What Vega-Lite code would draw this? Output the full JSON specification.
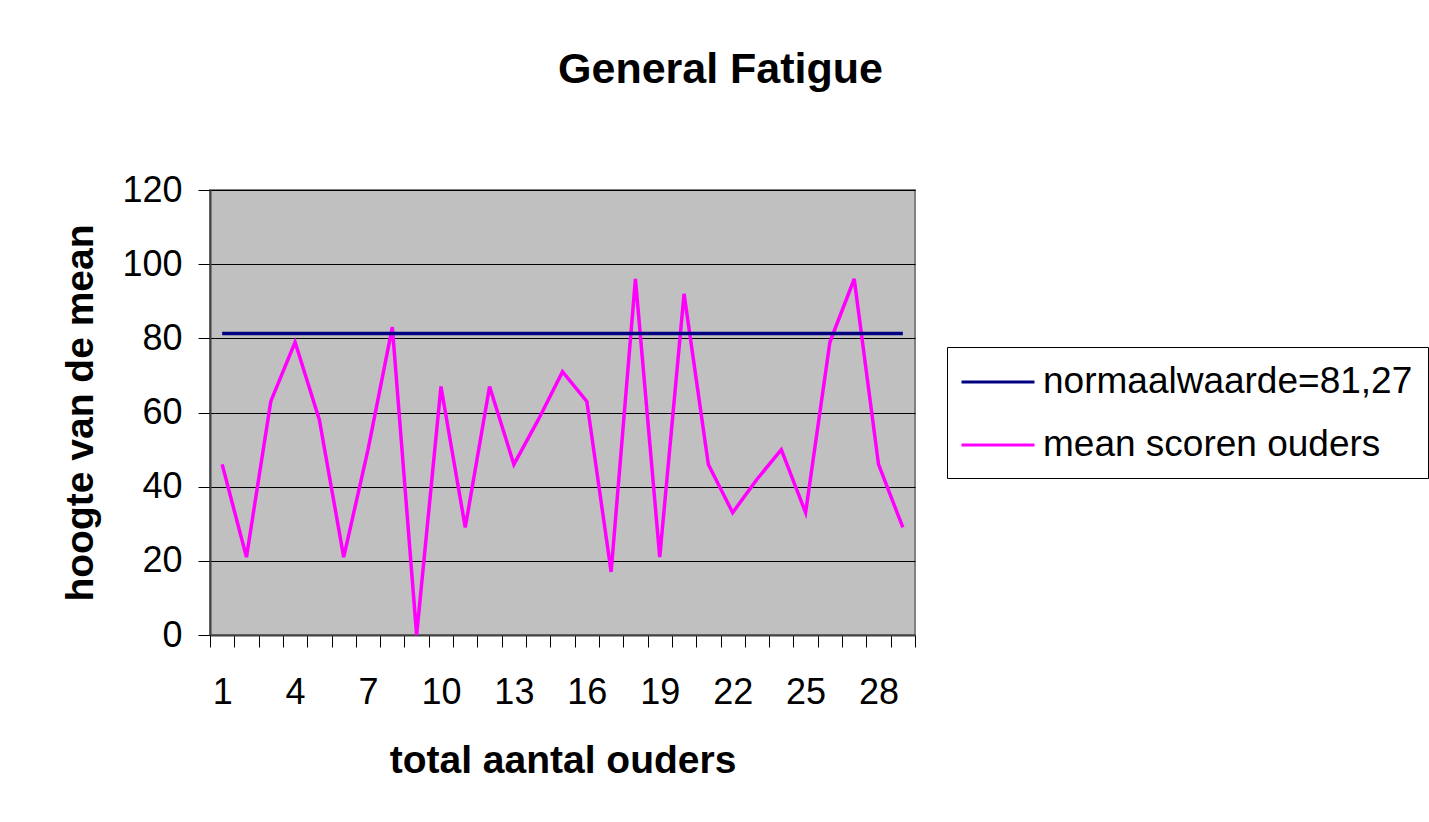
{
  "$schema": "https://vega.github.io/schema/vega-lite/v6.json",
  "autosize": "none",
  "width": 705,
  "height": 445,
  "padding": {"left": 210, "top": 190, "right": 514, "bottom": 187},
  "background": "white",
  "title": {
    "text": "General Fatigue",
    "font": "Liberation Sans",
    "fontSize": 43,
    "fontWeight": "bold",
    "color": "black",
    "anchor": "middle",
    "dx": 158,
    "offset": 46,
    "baseline": "alphabetic"
  },
  "config": {
    "view": {"fill": "#C0C0C0", "stroke": "#808080", "strokeWidth": 2},
    "font": "Liberation Sans"
  },
  "data": {
    "values": [
      {"ouder": 1, "score": 46, "reeks": "mean scoren ouders"},
      {"ouder": 2, "score": 21, "reeks": "mean scoren ouders"},
      {"ouder": 3, "score": 63, "reeks": "mean scoren ouders"},
      {"ouder": 4, "score": 79, "reeks": "mean scoren ouders"},
      {"ouder": 5, "score": 58, "reeks": "mean scoren ouders"},
      {"ouder": 6, "score": 21, "reeks": "mean scoren ouders"},
      {"ouder": 7, "score": 50, "reeks": "mean scoren ouders"},
      {"ouder": 8, "score": 83, "reeks": "mean scoren ouders"},
      {"ouder": 9, "score": 0, "reeks": "mean scoren ouders"},
      {"ouder": 10, "score": 67, "reeks": "mean scoren ouders"},
      {"ouder": 11, "score": 29, "reeks": "mean scoren ouders"},
      {"ouder": 12, "score": 67, "reeks": "mean scoren ouders"},
      {"ouder": 13, "score": 46, "reeks": "mean scoren ouders"},
      {"ouder": 14, "score": 58, "reeks": "mean scoren ouders"},
      {"ouder": 15, "score": 71, "reeks": "mean scoren ouders"},
      {"ouder": 16, "score": 63, "reeks": "mean scoren ouders"},
      {"ouder": 17, "score": 17, "reeks": "mean scoren ouders"},
      {"ouder": 18, "score": 96, "reeks": "mean scoren ouders"},
      {"ouder": 19, "score": 21, "reeks": "mean scoren ouders"},
      {"ouder": 20, "score": 92, "reeks": "mean scoren ouders"},
      {"ouder": 21, "score": 46, "reeks": "mean scoren ouders"},
      {"ouder": 22, "score": 33, "reeks": "mean scoren ouders"},
      {"ouder": 23, "score": 42, "reeks": "mean scoren ouders"},
      {"ouder": 24, "score": 50, "reeks": "mean scoren ouders"},
      {"ouder": 25, "score": 33, "reeks": "mean scoren ouders"},
      {"ouder": 26, "score": 79, "reeks": "mean scoren ouders"},
      {"ouder": 27, "score": 96, "reeks": "mean scoren ouders"},
      {"ouder": 28, "score": 46, "reeks": "mean scoren ouders"},
      {"ouder": 29, "score": 29, "reeks": "mean scoren ouders"},
      {"ouder": 1, "score": 81.27, "reeks": "normaalwaarde=81,27"},
      {"ouder": 2, "score": 81.27, "reeks": "normaalwaarde=81,27"},
      {"ouder": 3, "score": 81.27, "reeks": "normaalwaarde=81,27"},
      {"ouder": 4, "score": 81.27, "reeks": "normaalwaarde=81,27"},
      {"ouder": 5, "score": 81.27, "reeks": "normaalwaarde=81,27"},
      {"ouder": 6, "score": 81.27, "reeks": "normaalwaarde=81,27"},
      {"ouder": 7, "score": 81.27, "reeks": "normaalwaarde=81,27"},
      {"ouder": 8, "score": 81.27, "reeks": "normaalwaarde=81,27"},
      {"ouder": 9, "score": 81.27, "reeks": "normaalwaarde=81,27"},
      {"ouder": 10, "score": 81.27, "reeks": "normaalwaarde=81,27"},
      {"ouder": 11, "score": 81.27, "reeks": "normaalwaarde=81,27"},
      {"ouder": 12, "score": 81.27, "reeks": "normaalwaarde=81,27"},
      {"ouder": 13, "score": 81.27, "reeks": "normaalwaarde=81,27"},
      {"ouder": 14, "score": 81.27, "reeks": "normaalwaarde=81,27"},
      {"ouder": 15, "score": 81.27, "reeks": "normaalwaarde=81,27"},
      {"ouder": 16, "score": 81.27, "reeks": "normaalwaarde=81,27"},
      {"ouder": 17, "score": 81.27, "reeks": "normaalwaarde=81,27"},
      {"ouder": 18, "score": 81.27, "reeks": "normaalwaarde=81,27"},
      {"ouder": 19, "score": 81.27, "reeks": "normaalwaarde=81,27"},
      {"ouder": 20, "score": 81.27, "reeks": "normaalwaarde=81,27"},
      {"ouder": 21, "score": 81.27, "reeks": "normaalwaarde=81,27"},
      {"ouder": 22, "score": 81.27, "reeks": "normaalwaarde=81,27"},
      {"ouder": 23, "score": 81.27, "reeks": "normaalwaarde=81,27"},
      {"ouder": 24, "score": 81.27, "reeks": "normaalwaarde=81,27"},
      {"ouder": 25, "score": 81.27, "reeks": "normaalwaarde=81,27"},
      {"ouder": 26, "score": 81.27, "reeks": "normaalwaarde=81,27"},
      {"ouder": 27, "score": 81.27, "reeks": "normaalwaarde=81,27"},
      {"ouder": 28, "score": 81.27, "reeks": "normaalwaarde=81,27"},
      {"ouder": 29, "score": 81.27, "reeks": "normaalwaarde=81,27"}
    ]
  },
  "mark": {"type": "line", "strokeWidth": 3.5},
  "encoding": {
    "x": {
      "field": "ouder",
      "type": "ordinal",
      "bandPosition": 0.5,
      "scale": {"type": "band", "paddingInner": 0, "paddingOuter": 0},
      "axis": {
        "title": "total aantal ouders",
        "titleFont": "Liberation Sans",
        "titleFontSize": 39,
        "titleFontWeight": "bold",
        "titleColor": "black",
        "titlePadding": 31,
        "labelAngle": 0,
        "labelFont": "Liberation Sans",
        "labelFontSize": 36,
        "labelColor": "black",
        "labelPadding": 28,
        "labelOverlap": false,
        "labelExpr": "(datum.value - 1) % 3 == 0 ? datum.label : ''",
        "tickBand": "extent",
        "tickSize": 12,
        "tickColor": "black",
        "tickWidth": 1,
        "domainColor": "#404040",
        "domainWidth": 2,
        "grid": false
      }
    },
    "y": {
      "field": "score",
      "type": "quantitative",
      "scale": {"domain": [0, 120], "nice": false},
      "axis": {
        "title": "hoogte van de mean",
        "titleFont": "Liberation Sans",
        "titleFontSize": 39,
        "titleFontWeight": "bold",
        "titleColor": "black",
        "titlePadding": 21,
        "values": [0, 20, 40, 60, 80, 100, 120],
        "labelFont": "Liberation Sans",
        "labelFontSize": 36,
        "labelColor": "black",
        "labelPadding": 16,
        "tickSize": 12,
        "tickColor": "black",
        "tickWidth": 1,
        "domainColor": "#404040",
        "domainWidth": 2,
        "grid": true,
        "gridColor": "black",
        "gridWidth": 1
      }
    },
    "color": {
      "field": "reeks",
      "type": "nominal",
      "scale": {
        "domain": ["normaalwaarde=81,27", "mean scoren ouders"],
        "range": ["#000080", "#FF00FF"]
      },
      "legend": {
        "title": null,
        "orient": "none",
        "legendX": 737,
        "legendY": 157,
        "fillColor": "white",
        "strokeColor": "black",
        "padding": 15,
        "symbolType": "M-2,0L2,0",
        "symbolSize": 1332,
        "symbolStrokeWidth": 3,
        "symbolOffset": 16,
        "labelFont": "Liberation Sans",
        "labelFontSize": 37,
        "labelColor": "black",
        "labelLimit": 600,
        "labelOffset": 25,
        "rowPadding": 25
      }
    }
  }
}
